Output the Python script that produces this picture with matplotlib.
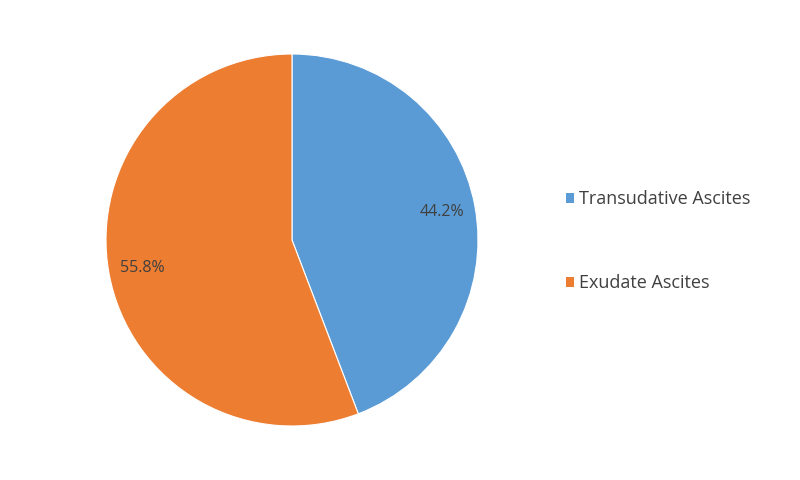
import matplotlib.pyplot as plt
from matplotlib.patches import Patch

labels = ['Transudative Ascites', 'Exudate Ascites']
shares = [44.2, 55.8]
colors = ['#5B9BD5', '#ED7D31']

plt.rcParams['font.family'] = ['Open Sans', 'DejaVu Sans']

fig = plt.figure(figsize=(8, 4.8), dpi=100)
ax = fig.add_axes([0.1325, 0.1125, 0.465, 0.775])

wedges, texts, autotexts = ax.pie(
    shares, colors=colors, startangle=90, counterclock=False,
    autopct='%.1f%%', pctdistance=0.82,
    wedgeprops=dict(edgecolor='white', linewidth=0.8),
    textprops=dict(color='#404040', fontsize=11.5))
ax.set_xlim(-1, 1)
ax.set_ylim(-1, 1)
ax.set_aspect('equal')

handles = [Patch(facecolor=c, edgecolor='none') for c in colors]
fig.legend(handles, labels, loc='center left', bbox_to_anchor=(0.687, 0.497),
           frameon=False, fontsize=13, labelcolor='#404040',
           handlelength=0.45, handleheight=0.45, handletextpad=0.3,
           labelspacing=3.65)

fig.savefig('out.png', dpi=100, facecolor='white')
